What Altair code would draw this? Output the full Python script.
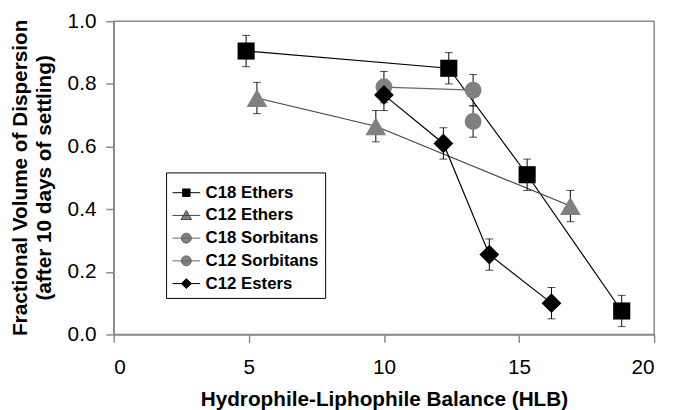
import altair as alt
import pandas as pd

series_order = ["C18 Ethers", "C12 Ethers", "C18 Sorbitans", "C12 Sorbitans", "C12 Esters"]

c18_ethers_hlb = [4.9, 12.4, 15.3, 18.8]
c18_ethers_vol = [0.905, 0.85, 0.51, 0.075]
c18_ethers_err = [0.05, 0.05, 0.05, 0.05]

c12_ethers_hlb = [5.3, 9.7, 16.9]
c12_ethers_vol = [0.755, 0.665, 0.41]
c12_ethers_err = [0.05, 0.05, 0.05]

c18_sorb_hlb = [10.0, 13.3]
c18_sorb_vol = [0.79, 0.78]
c18_sorb_err = [0.05, 0.05]

c12_sorb_hlb = [13.3]
c12_sorb_vol = [0.68]
c12_sorb_err = [0.05]

c12_esters_hlb = [10.0, 12.2, 13.9, 16.2]
c12_esters_vol = [0.765, 0.61, 0.255, 0.10]
c12_esters_err = [0.05, 0.05, 0.05, 0.05]

x_ticks = [0, 5, 10, 15, 20]
y_ticks = [0.0, 0.2, 0.4, 0.6, 0.8, 1.0]

fill_colors = ["#000000", "#808080", "#808080", "#808080", "#000000"]
line_colors = ["#000000", "#444444", "#666666", "#666666", "#000000"]
point_shapes = ["square", "triangle-up", "circle", "circle", "diamond"]
point_sizes = [300, 440, 290, 290, 400]

rows = []
for name, xs, ys, es in [
    ("C18 Ethers", c18_ethers_hlb, c18_ethers_vol, c18_ethers_err),
    ("C12 Ethers", c12_ethers_hlb, c12_ethers_vol, c12_ethers_err),
    ("C18 Sorbitans", c18_sorb_hlb, c18_sorb_vol, c18_sorb_err),
    ("C12 Sorbitans", c12_sorb_hlb, c12_sorb_vol, c12_sorb_err),
    ("C12 Esters", c12_esters_hlb, c12_esters_vol, c12_esters_err),
]:
    for x, y, e in zip(xs, ys, es):
        rows.append({"series": name, "hlb": x, "vol": y, "lo": y - e, "hi": y + e})
df = pd.DataFrame(rows)

FONT = "Liberation Sans"

# legend glyphs: a short line with the marker in its middle
legend_paths = [
    "M-1,0H1M-0.27,-0.27H0.27V0.27H-0.27Z",
    "M-1,0H1M0,-0.36L0.38,0.3H-0.38Z",
    "M-1,0H1M-0.36,0A0.36,0.36,0,1,1,0.36,0A0.36,0.36,0,1,1,-0.36,0Z",
    "M-1,0H1M-0.36,0A0.36,0.36,0,1,1,0.36,0A0.36,0.36,0,1,1,-0.36,0Z",
    "M-1,0H1M0,-0.36L0.36,0L0,0.36L-0.36,0Z",
]

x_enc = alt.X("hlb:Q", scale=alt.Scale(domain=[0, 20], nice=False),
              axis=alt.Axis(values=x_ticks, format="d", title="Hydrophile-Liphophile Balance (HLB)",
                            labelPadding=14, titleY=55, titleBaseline="top"))
y_axis = alt.Axis(values=y_ticks, format=".1f",
                  title=["Fractional Volume of Dispersion", "(after 10 days of settling)"],
                  labelPadding=10, titleX=-105, titleY=158, titleAngle=270,
                  titleAlign="center", titleBaseline="top", titleLineHeight=24)
y_scale = alt.Scale(domain=[0, 1], nice=False)

base = alt.Chart(df)

line_layers = []
for i, name in enumerate(series_order):
    line_layers.append(
        base.transform_filter(alt.datum.series == name).mark_line(
            strokeWidth=1.2, color=line_colors[i]
        ).encode(x=x_enc, y=alt.Y("vol:Q", scale=y_scale, axis=y_axis))
    )

err = base.mark_rule(color="black", strokeWidth=1).encode(
    x="hlb:Q", y="lo:Q", y2="hi:Q")
cap_lo = base.mark_tick(color="black", orient="horizontal", size=8, thickness=1).encode(
    x="hlb:Q", y="lo:Q")
cap_hi = base.mark_tick(color="black", orient="horizontal", size=8, thickness=1).encode(
    x="hlb:Q", y="hi:Q")

point_layers = []
for i, name in enumerate(series_order):
    point_layers.append(
        base.transform_filter(alt.datum.series == name).mark_point(
            filled=True, opacity=1, strokeWidth=0, shape=point_shapes[i],
            size=point_sizes[i], color=fill_colors[i]
        ).encode(x="hlb:Q", y="vol:Q")
    )

legend_layer = base.transform_filter("false").mark_point(filled=True, opacity=1, strokeWidth=1).encode(
    x="hlb:Q", y="vol:Q",
    color=alt.Color("series:N", scale=alt.Scale(domain=series_order, range=fill_colors),
                    legend=alt.Legend(title=None)),
    shape=alt.Shape("series:N", scale=alt.Scale(domain=series_order, range=legend_paths),
                    legend=alt.Legend(title=None)),
    stroke=alt.Stroke("series:N", scale=alt.Scale(domain=series_order, range=line_colors),
                      legend=alt.Legend(title=None)),
)

chart = alt.layer(*line_layers, err, cap_lo, cap_hi, *point_layers, legend_layer).properties(
    width=547, height=317,
    autosize=alt.AutoSizeParams(type="none"),
    padding={"left": 107, "top": 11, "right": 12, "bottom": 74},
).configure_view(
    stroke="#8a8a8a", strokeWidth=1.5
).configure_axis(
    grid=False, domainColor="#8a8a8a", domainWidth=1.5, tickColor="#8a8a8a", tickWidth=1.5,
    tickSize=8, labelFont=FONT, labelFontSize=21, labelColor="black",
    titleFont=FONT, titleFontSize=21, titleFontWeight="bold", titleColor="black",
).configure_legend(
    orient="none", legendX=53, legendY=153, padding=6, strokeColor="black", fillColor="white",
    labelFont=FONT, labelFontSize=17, labelFontWeight="bold", labelColor="black",
    symbolSize=784, symbolStrokeWidth=1, rowPadding=0, labelOffset=5,
)

chart.save("out.html", embed_options={"renderer": "svg", "actions": False})
